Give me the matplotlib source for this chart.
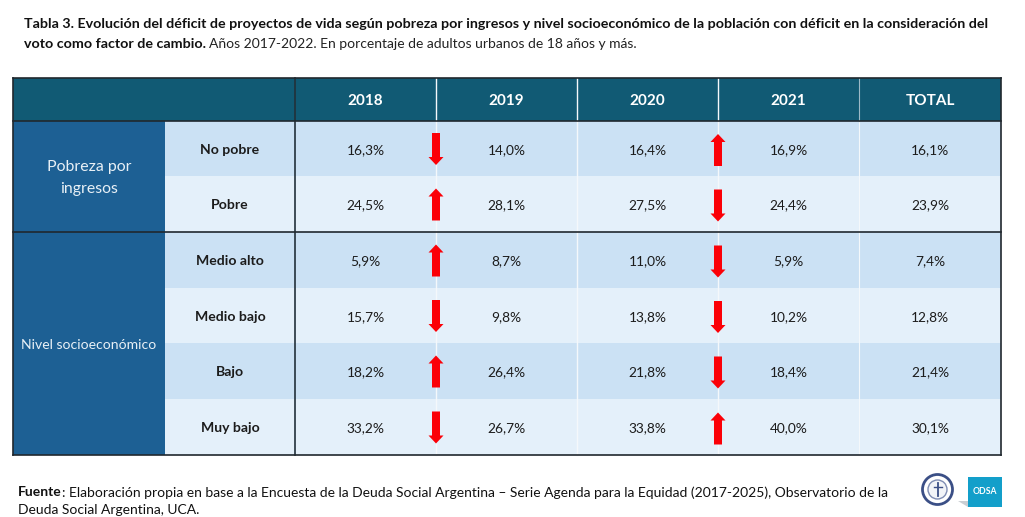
import matplotlib
matplotlib.use("Agg")
import matplotlib.pyplot as plt
from matplotlib.patches import Rectangle, Circle, Polygon

plt.rcParams['font.family'] = ['Lato', 'DejaVu Sans']

years = ["2018", "2019", "2020", "2021", "TOTAL"]
rows = ["No pobre", "Pobre", "Medio alto", "Medio bajo", "Bajo", "Muy bajo"]
v2018 = ["16,3%", "24,5%", "5,9%", "15,7%", "18,2%", "33,2%"]
v2019 = ["14,0%", "28,1%", "8,7%", "9,8%", "26,4%", "26,7%"]
v2020 = ["16,4%", "27,5%", "11,0%", "13,8%", "21,8%", "33,8%"]
v2021 = ["16,9%", "24,4%", "5,9%", "10,2%", "18,4%", "40,0%"]
vtotal = ["16,1%", "23,9%", "7,4%", "12,8%", "21,4%", "30,1%"]
# +1 arrow up, -1 arrow down
arrows_18_19 = [-1, 1, 1, -1, 1, -1]
arrows_20_21 = [1, -1, -1, -1, -1, 1]

NAVY = "#115a74"
BLUE = "#1d6094"
ROW_A = "#cbe1f4"
ROW_B = "#e4f0fa"
INK = "#1c1c1c"

xs = [13, 165, 295, 436, 577, 718, 859, 1001]
ys = [121, 176, 232, 288, 343, 399, 455]
top = 78

fig = plt.figure(figsize=(10.25, 5.17), dpi=100)
ax = fig.add_axes([0, 0, 1, 1])
ax.set_xlim(0, 1025)
ax.set_ylim(517, 0)
ax.axis("off")


def rect(x0, y0, x1, y1, color, z=1):
    ax.add_patch(Rectangle((x0, y0), x1 - x0, y1 - y0, fc=color, ec="none", zorder=z))


# title
ax.text(24, 24.5, "Tabla 3. Evolución del déficit de proyectos de vida según pobreza por ingresos y nivel "
        "socioeconómico de la población con déficit en la consideración del",
        fontsize=10.27, fontweight="bold", color="#111111", va="center")
t = ax.text(24, 43.5, "voto como factor de cambio.", fontsize=10.27, fontweight="bold",
            color="#111111", va="center")
fig.canvas.draw()
bb = t.get_window_extent()
ax.text(bb.x1 + 3, 43.5, "Años 2017-2022. En porcentaje de adultos urbanos de 18 años y más.",
        fontsize=10.0, color="#222222", va="center")

# header
rect(xs[0], top, xs[-1], ys[0], NAVY)
for i, y in enumerate(years):
    ax.text((xs[i + 2] + xs[i + 3]) / 2, 101, y, color="white", fontsize=11, fontweight="bold",
            ha="center", va="center", zorder=5)

# left group cells
rect(xs[0], ys[0], xs[1], ys[-1], BLUE)
ax.text((xs[0] + xs[1]) / 2, 178, "Pobreza por\ningresos", color="#e8f0f6", fontsize=11.4,
        ha="center", va="center", linespacing=1.65, zorder=5)
ax.text((xs[0] + xs[1]) / 2, 345, "Nivel socioeconómico", color="#e8f0f6", fontsize=10.05,
        ha="center", va="center", zorder=5)

# body
columns = [v2018, v2019, v2020, v2021, vtotal]
for r, name in enumerate(rows):
    rect(xs[1], ys[r], xs[-1], ys[r + 1], ROW_A if r % 2 == 0 else ROW_B)
    cy = (ys[r] + ys[r + 1]) / 2 + 1.2
    ax.text((xs[1] + xs[2]) / 2, cy, name, color=INK, fontsize=10.1, fontweight="bold",
            ha="center", va="center", zorder=5)
    for c, col in enumerate(columns):
        ax.text((xs[c + 2] + xs[c + 3]) / 2, cy, col[r], color=INK, fontsize=9.9,
                ha="center", va="center", zorder=5)

# white column separators, dark rules
for x in xs[3:-2]:
    ax.plot([x, x], [top, ys[-1]], color="#f4f8fb", lw=1.0, zorder=2)
ax.plot([xs[2], xs[2]], [top, ys[-1]], color="#22303a", lw=1.2, zorder=3)
ax.plot([xs[-2]] * 2, [top, ys[0]], color="#9db9c7", lw=0.8, zorder=3)
ax.plot([xs[-2]] * 2, [ys[0], ys[-1]], color="#f4f8fb", lw=0.8, zorder=2)
for y in [top, ys[0], ys[2], ys[-1]]:
    ax.plot([xs[0], xs[-1]], [y, y], color="#20282e", lw=1.2, zorder=3)
for x in [xs[0], xs[-1]]:
    ax.plot([x, x], [top, ys[-1]], color="#20282e", lw=1.2, zorder=3)


def arrow(x, cy, direction):
    # block arrow 15 px wide and 32 px long
    s = direction
    pts = [(x - 4, cy + 16 * s), (x + 4, cy + 16 * s), (x + 4, cy - 8 * s),
           (x + 7.5, cy - 8 * s), (x, cy - 16 * s), (x - 7.5, cy - 8 * s), (x - 4, cy - 8 * s)]
    ax.add_patch(Polygon(pts, closed=True, fc="#fb0007", ec="none", zorder=6))


for r in range(len(rows)):
    cy = (ys[r] + ys[r + 1]) / 2 + 0.5
    arrow(xs[3], cy, arrows_18_19[r])
    arrow(xs[5], cy + 1, arrows_20_21[r])

# footer
f = ax.text(18, 492.5, "Fuente", fontsize=10.0, fontweight="bold", color="#111111", va="center")
fig.canvas.draw()
bb = f.get_window_extent()
ax.text(bb.x1, 492.5, ": Elaboración propia en base a la Encuesta de la Deuda Social Argentina – Serie Agenda "
        "para la Equidad (2017-2025), Observatorio de la",
        fontsize=10.0, color="#111111", va="center")
ax.text(18, 510, "Deuda Social Argentina, UCA.", fontsize=10.0, color="#111111", va="center")

# logos
ax.add_patch(Circle((937.5, 489.5), 15, fc="white", ec="#3b4f86", lw=2.0, zorder=4))
ax.add_patch(Circle((937.5, 489.5), 9.5, fc="#f2f4f8", ec="#7f8db3", lw=1, zorder=4))
ax.plot([938, 938], [483, 496], color="#3b4f86", lw=1.3, zorder=5)
ax.plot([934, 942], [487, 487], color="#3b4f86", lw=1.0, zorder=5)
rect(968, 477, 1002, 507, "#139fca", z=4)
ax.add_patch(Polygon([(958, 501), (968, 501), (968, 507)], closed=True, fc="#c9ced3", ec="none", zorder=3))
ax.text(985, 492, "ODSA", color="white", fontsize=6.2, fontweight="bold", ha="center", va="center", zorder=5)

fig.savefig("out.png", dpi=100)
